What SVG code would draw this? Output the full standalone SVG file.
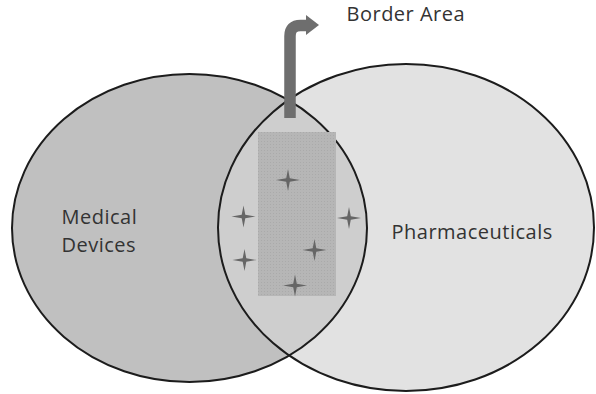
<svg xmlns="http://www.w3.org/2000/svg" width="596" height="394" viewBox="0 0 596 394">
  <style>
    .lbl { font-family: "Open Sans", "Liberation Sans", sans-serif; font-size: 20px; fill: #333333; letter-spacing: 0.5px; }
    .outline { fill: none; stroke: #1c1c1c; stroke-width: 2; }
    .star { fill: #666666; }
  </style>
  <defs>
    <path id="star" d="M0,-11 L1.8,-1.8 L12,0 L1.8,1.8 L0,11 L-1.8,1.8 L-12,0 L-1.8,-1.8 Z"/>
    <pattern id="dots" width="3" height="3" patternUnits="userSpaceOnUse">
      <rect width="3" height="3" fill="#b6b6b6"/>
      <rect width="1" height="1" fill="#aaaaaa"/>
    </pattern>
  </defs>
  <rect width="596" height="394" fill="#ffffff"/>

  <g id="medical-devices">
    <ellipse cx="189.5" cy="228" rx="177.5" ry="154" fill="#c0c0c0"/>
  </g>
  <g id="pharmaceuticals">
    <ellipse cx="406" cy="227.5" rx="188" ry="163.5" fill="#d4d4d4" fill-opacity="0.68"/>
  </g>
  <g id="outlines">
    <ellipse class="outline" cx="189.5" cy="228" rx="177.5" ry="154"/>
    <ellipse class="outline" cx="406" cy="227.5" rx="188" ry="163.5"/>
  </g>

  <g id="border-area-box">
    <rect x="258" y="132" width="78" height="164" fill="url(#dots)"/>
  </g>

  <g id="stars">
    <use href="#star" class="star" x="288" y="180"/>
    <use href="#star" class="star" x="243.5" y="216.5"/>
    <use href="#star" class="star" x="349" y="218"/>
    <use href="#star" class="star" x="314.5" y="250"/>
    <use href="#star" class="star" x="244.5" y="260"/>
    <use href="#star" class="star" x="295" y="285.5"/>
  </g>

  <g id="connectors">
    <path d="M290,118 L290,36 Q290,25.5 300.5,25.5 L308,25.5" fill="none" stroke="#6e6e6e" stroke-width="11.5"/>
    <polygon points="306,15 319,25 306,35" fill="#6e6e6e"/>
  </g>

  <g id="labels">
    <text class="lbl" x="346.5" y="21">Border Area</text>
    <text class="lbl" x="61.5" y="224">Medical</text>
    <text class="lbl" x="61.5" y="252">Devices</text>
    <text class="lbl" x="391.5" y="238.5">Pharmaceuticals</text>
  </g>
</svg>
